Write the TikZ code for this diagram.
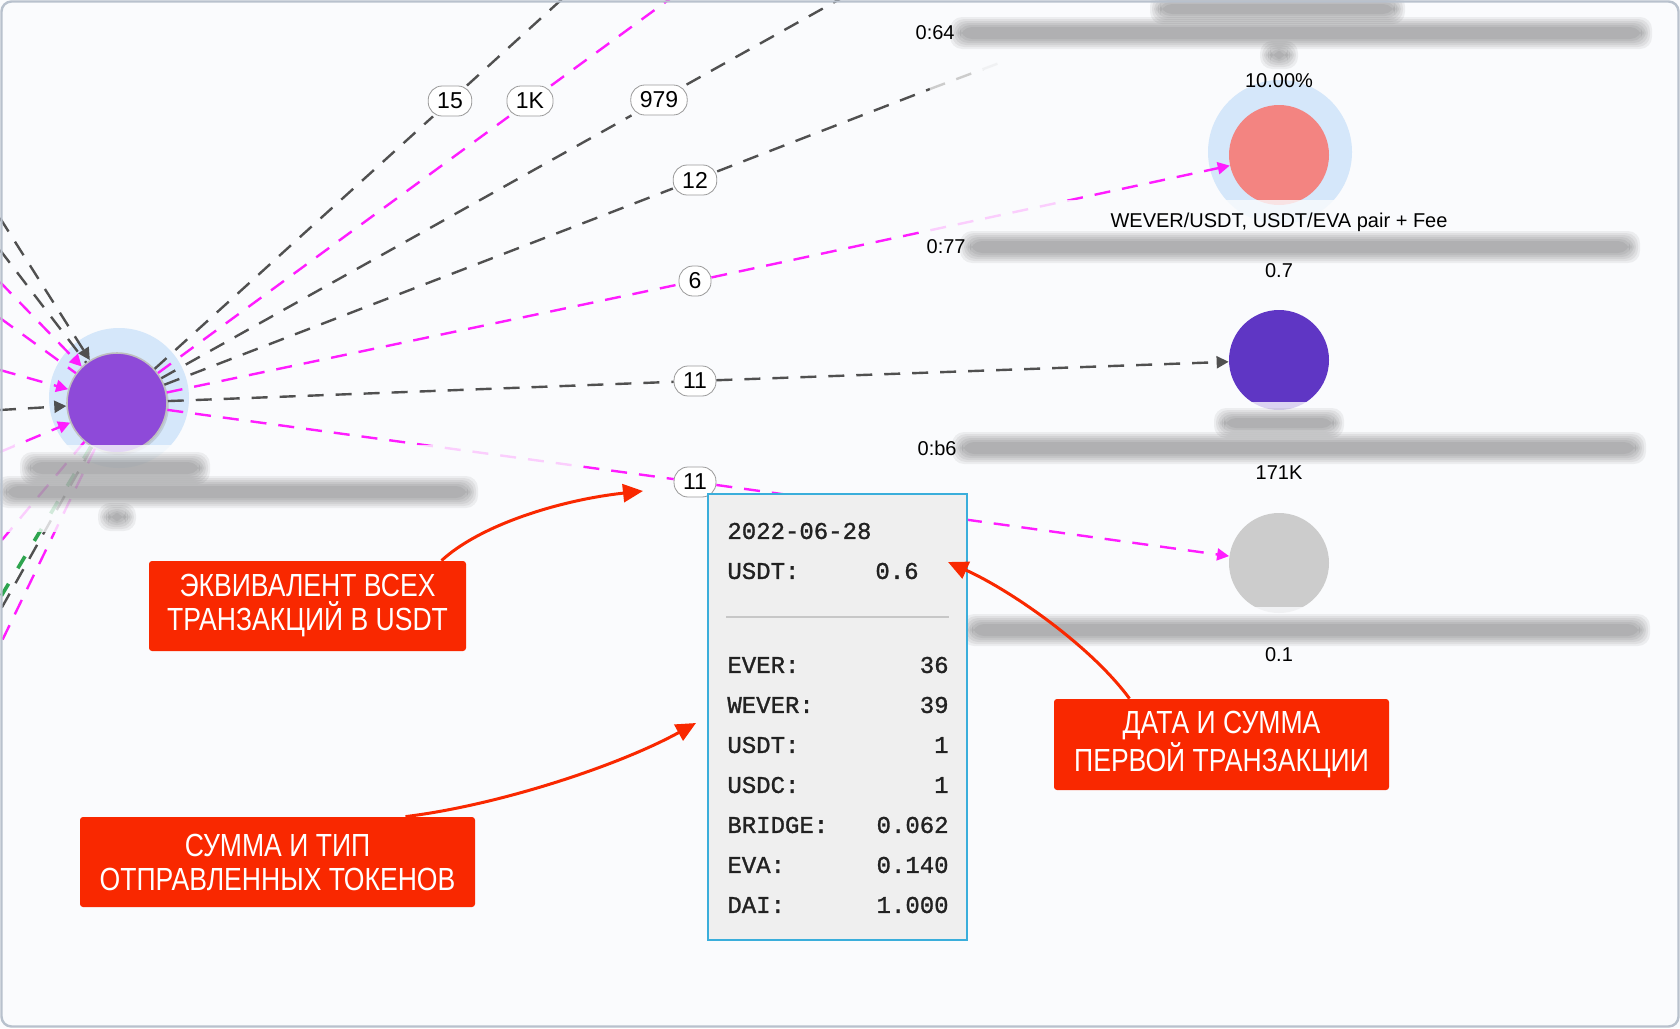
\documentclass[tikz,border=0pt]{standalone}
\usepackage{fontspec}
\setmainfont{Liberation Sans}
\newfontfamily\monofont[FakeBold=1.2]{Liberation Mono}
\newfontfamily\calloutfont[FakeStretch=0.83]{Liberation Sans}
\usetikzlibrary{arrows.meta,shadows}

\definecolor{bgcol}{HTML}{FAFBFD}
\definecolor{framecol}{HTML}{B8C1CD}
\definecolor{halocol}{HTML}{D5E7FA}
\definecolor{srcpurple}{HTML}{8E4AD9}
\definecolor{redpink}{HTML}{F38481}
\definecolor{indigo}{HTML}{5F36C4}
\definecolor{graynode}{HTML}{CCCCCC}
\definecolor{edgegray}{HTML}{505050}
\definecolor{edgepink}{HTML}{FF1CFF}
\definecolor{edgegreen}{HTML}{2EA44F}
\definecolor{lblgray}{HTML}{9A9A9A}
\definecolor{tipgray}{HTML}{EFEFEF}
\definecolor{tipblue}{HTML}{3AAEDB}
\definecolor{monotext}{HTML}{222222}
\definecolor{calloutred}{HTML}{F92800}

\newcommand{\blurtext}[4]{%
  \foreach \g in {0,2,4,6,8,10}{\fill[black, opacity=0.055, rounded corners=6pt] ({#1-\g},{#3-#4-\g}) rectangle ({#2+\g},{#3+#4+\g});}}

\begin{document}
\begin{tikzpicture}[x=0.5pt, y=-0.5pt,
    every node/.style={font=\fontsize{10}{12}\selectfont},
    gnode/.style={circle, minimum size=50pt, inner sep=0pt},
    elabel/.style={draw=lblgray, fill=white, rounded corners=7pt, inner xsep=4.5pt, inner ysep=0pt,
        minimum height=15pt, minimum width=16pt, font=\fontsize{11.5}{13}\selectfont},
    darkedge/.style={draw=edgegray, line width=1.2pt, dash pattern=on 8pt off 6pt},
    pinkedge/.style={draw=edgepink, line width=1.2pt, dash pattern=on 8pt off 6pt},
    greenedge/.style={draw=edgegreen, line width=1.8pt, dash pattern=on 7pt off 9pt},
    arrowtip/.style={-{Triangle[length=6pt,width=6pt]}},
    fadeband/.style={fill=bgcol, opacity=0.8},
    mono/.style={font=\monofont\fontsize{12}{14}\selectfont, text=monotext, inner sep=0pt},
    callout/.style={fill=calloutred, text=white, align=center, rounded corners=1.5pt,
        font=\calloutfont\fontsize{16}{17}\selectfont},
    pointer/.style={draw=calloutred, line width=1.5pt, -{Triangle[length=10pt,width=9pt]}}]

    \useasboundingbox (0,0) rectangle (1680,1028);
    \fill[bgcol] (0,0) rectangle (1680,1028);
    \clip (0,0) rectangle (1680,1028);

    \fill[halocol] (119,398) circle[radius=35pt];
    \fill[halocol] (1280,152) circle[radius=36pt];

    \node[gnode, fill=srcpurple, draw=black!25, line width=0.8pt,
        drop shadow={opacity=0.25, shadow xshift=1pt, shadow yshift=-1pt}] (src) at (117,403) {};
    \node[gnode, fill=redpink] (nred) at (1279,155) {};
    \node[gnode, fill=indigo] (nind) at (1279,360) {};
    \node[gnode, fill=graynode] (ngray) at (1279,563) {};

    \node[elabel] (l15) at (450,101) {15};
    \node[elabel] (l1k) at (530,101) {1K};
    \node[elabel] (l979) at (659,100) {979};
    \node[elabel] (l12) at (695,180) {12};
    \node[elabel] (l6) at (695,281) {6};
    \node[elabel] (l11a) at (695,381) {11};
    \node[elabel] (l11b) at (695,482) {11};

    \coordinate (e15) at (572,-10);
    \coordinate (e1k) at (682,-10);
    \coordinate (e979) at (856,-10);
    \coordinate (e12a) at (930,89);
    \coordinate (e12) at (1002,62);

    \draw[darkedge] (src) -- (l15) -- (e15);
    \draw[pinkedge] (src) -- (l1k) -- (e1k);
    \draw[darkedge] (src) -- (l979) -- (e979);
    \draw[darkedge] (src) -- (l12) -- (e12a);
    \draw[darkedge, draw=black!20] (e12a) -- (e12);
    \draw[pinkedge, arrowtip] (src) -- (l6) -- (nred);
    \draw[darkedge, arrowtip] (src) -- (l11a) -- (nind);
    \draw[pinkedge, arrowtip] (src) -- (l11b) -- (ngray);

    \coordinate (in1) at (0,218);
    \coordinate (in2) at (0,250);
    \coordinate (in3) at (0,282);
    \coordinate (in4) at (0,318);
    \coordinate (in5) at (0,370);
    \coordinate (in6) at (0,410);
    \coordinate (in7) at (0,452);
    \draw[darkedge, arrowtip] (in1) -- (src);
    \draw[darkedge] (in2) -- (src);
    \draw[pinkedge, arrowtip] (in3) -- (src);
    \draw[pinkedge] (in4) -- (src);
    \draw[pinkedge, arrowtip] (in5) -- (src);
    \draw[darkedge, arrowtip] (in6) -- (src);
    \draw[pinkedge, arrowtip] (in7) -- (src);

    \coordinate (b1) at (-30,648);
    \coordinate (b2) at (-30,664);
    \coordinate (b3) at (-30,707);
    \coordinate (b4) at (-30,578);
    \draw[greenedge] (src) -- (b1);
    \draw[darkedge] (src) -- (b2);
    \draw[pinkedge] (src) -- (b3);
    \draw[pinkedge] (src) -- (b4);

    \fill[fadeband] (0,445) rectangle (580,532);
    \fill[fadeband] (945,0) rectangle (1660,70);
    \fill[fadeband] (925,200) rectangle (1645,285);
    \fill[fadeband] (915,402) rectangle (1645,488);
    \fill[fadeband] (960,607) rectangle (1650,668);

    \blurtext{1160}{1395}{9}{5}
    \blurtext{960}{1642}{33}{6}
    \blurtext{1270}{1288}{55}{4}
    \blurtext{970}{1630}{247}{6}
    \blurtext{1224}{1334}{423}{5}
    \blurtext{962}{1636}{448}{6}
    \blurtext{972}{1640}{630}{6}
    \blurtext{30}{200}{468}{6}
    \blurtext{6}{468}{492}{6}
    \blurtext{108}{126}{517}{4}

    \node[anchor=east, inner sep=0pt] (t064) at (955,33) {0:64};
    \node (tpct) at (1279,81) {10.00\%};
    \node (tpair) at (1279,222) {WEVER/USDT, USDT/EVA pair + Fee};
    \node[anchor=east, inner sep=0pt] (t077) at (966,247) {0:77};
    \node (tred) at (1279,271) {0.7};
    \node[anchor=east, inner sep=0pt] (t0b6) at (957,448) {0:b6};
    \node (tind) at (1279,473) {171K};
    \node (tgray) at (1279,655) {0.1};

    \node[draw=tipblue, fill=tipgray, line width=1pt, minimum width=129.5pt, minimum height=223pt,
        inner sep=0pt] (tooltip) at (837.5,717) {};
    \node[mono, anchor=west] (tdate) at (727,531) {2022-06-28};
    \node[mono, anchor=west] (tkey) at (727,571) {USDT:};
    \node[mono, anchor=east] (tval) at (919,571) {0.6};
    \draw[black!22, line width=0.8pt] (726,617) -- (949,617);
    \foreach \k/\v [count=\i] in {EVER/36, WEVER/39, USDT/1, USDC/1, BRIDGE/0.062, EVA/0.140, DAI/1.000} {
        \node[mono, anchor=west] (tk\i) at (727,{625+40*\i}) {\k:};
        \node[mono, anchor=east] (tv\i) at (949,{625+40*\i}) {\v};
    }

    \node[callout, minimum width=158.5pt, minimum height=45pt] (c1) at (307.5,606)
        {ЭКВИВАЛЕНТ ВСЕХ\\ТРАНЗАКЦИЙ В USDT};
    \node[callout, minimum width=197.5pt, minimum height=45pt] (c2) at (277.5,862)
        {СУММА И ТИП\\ОТПРАВЛЕННЫХ ТОКЕНОВ};
    \node[callout, minimum width=167.5pt, minimum height=45.5pt] (c3) at (1221.5,744.5)
        {ДАТА И СУММА\\ПЕРВОЙ ТРАНЗАКЦИИ};

    \coordinate (p1) at (643,491);
    \coordinate (p2) at (696,723);
    \coordinate (p3) at (948,562);
    \draw[pointer] ([xshift=67pt]c1.north) .. controls (480,525) and (560,500) .. (p1);
    \draw[pointer] ([xshift=64pt]c2.north) .. controls (500,805) and (620,765) .. (p2);
    \draw[pointer] ([xshift=-46pt]c3.north) .. controls (1090,645) and (1010,590) .. (p3);

    \draw[framecol, line width=1.2pt, rounded corners=5pt] (1.5,1.5) rectangle (1678.5,1026.5);

\end{tikzpicture}
\end{document}
